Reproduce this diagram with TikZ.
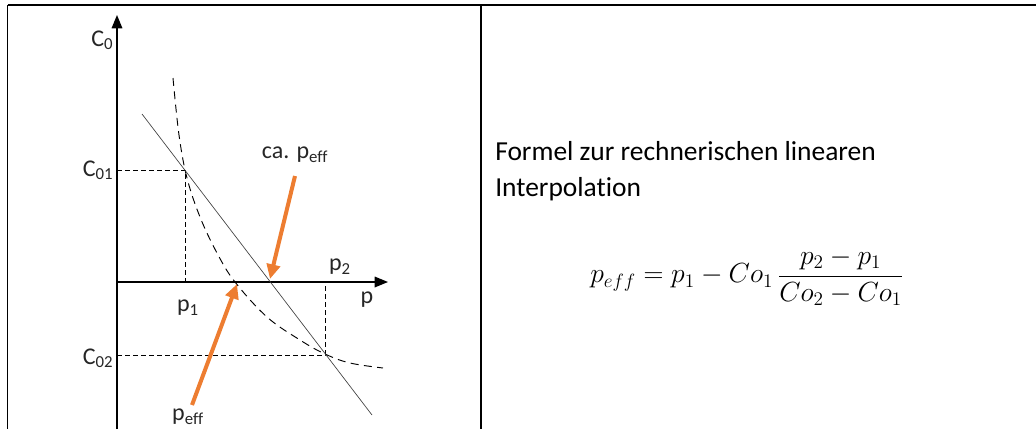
\documentclass[tikz,border=0pt]{standalone}
\usepackage{fontspec}
\setmainfont{Carlito}[Ligatures=NoCommon]
\usetikzlibrary{arrows.meta,positioning,calc}
\definecolor{hintorange}{HTML}{ED7D31}

\begin{document}
\begin{tikzpicture}[x=0.75pt,y=-0.75pt,
    frame/.style={line width=1.3pt},
    axis/.style={line width=0.9pt,-{Triangle[length=10pt,width=8pt]}},
    guide/.style={line width=0.6pt,dash pattern=on 3.5pt off 2.5pt},
    curve/.style={line width=0.7pt,dash pattern=on 6pt off 4pt},
    secant/.style={line width=0.5pt,black!75},
    hint/.style={line width=3pt,hintorange,-{Triangle[length=11pt,width=10pt]}},
    lbl/.style={font=\fontsize{18}{20}\selectfont,text=black!85,inner sep=1pt}]
      \useasboundingbox (0,0) rectangle (1036,429);
      % table lines
      \draw[frame] (7.5,5) -- (1036,5);
      \draw[frame] (7.5,5) -- (7.5,429);
      \draw[frame] (481,5) -- (481,429);
      % axes
      \coordinate (o) at (117,282);
      \coordinate (ybot) at (117,429);
      \coordinate (ytop) at (117,15);
      \coordinate (xend) at (388,282);
      \draw[axis] (ybot) -- (ytop);
      \draw[axis] (o) -- (xend);
      \node[lbl,anchor=east] (c0) at (115,40) {C\textsubscript{0}};
      % points of the secant
      \coordinate (pa) at (185,170);
      \coordinate (pb) at (325,355);
      \draw[guide] (117,170) -- (pa) -- (185,282);
      \draw[guide] (117,355) -- (pb) -- (325,282);
      \node[lbl,anchor=east] (c01) at (115,170) {C\textsubscript{01}};
      \node[lbl,anchor=east] (c02) at (115,358) {C\textsubscript{02}};
      \node[lbl] (p1) at (188,308) {p\textsubscript{1}};
      \node[lbl] (p2) at (340,267) {p\textsubscript{2}};
      \node[lbl] (p) at (367,300) {p};
      % curve and secant
      \draw[curve] plot[smooth,tension=0.6] coordinates {(173,78) (179,135) (187,178) (200,217) (217,253) (235,282) (267,317) (300,340) (325,354) (350,363) (383,368)};
      \coordinate (s0) at (142,114);
      \coordinate (s1) at (372,415);
      \draw[secant] (s0) -- (s1);
      % orange hints
      \node[lbl] (capeff) at (295,155) {ca. p\textsubscript{eff}};
      \node[lbl] (peff) at (188,417) {p\textsubscript{eff}};
      \coordinate (ha0) at (295,176);
      \coordinate (ha1) at (270,279);
      \coordinate (hb0) at (192,405);
      \coordinate (hb1) at (237,284);
      \draw[hint] (ha0) -- (ha1);
      \draw[hint] (hb0) -- (hb1);
      % right cell
      \node[anchor=base west,inner sep=0pt,font=\fontsize{20.6}{26}\selectfont] (line1) at (495,160.5) {Formel zur rechnerischen linearen};
      \node[anchor=base west,inner sep=0pt,font=\fontsize{20.6}{26}\selectfont] (line2) at (495,196) {Interpolation};
      \node[font=\fontsize{21}{25}\selectfont] (formula) at (747,277) {$\displaystyle p_{eff} = p_1 - Co_1\,\frac{p_2-p_1}{Co_2-Co_1}$};
    \end{tikzpicture}
\end{document}
